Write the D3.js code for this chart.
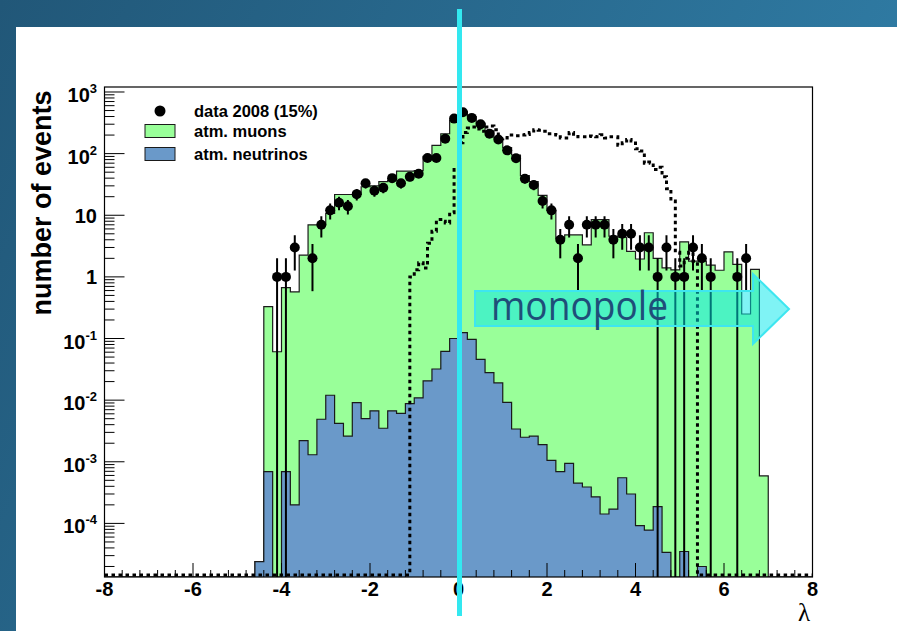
<!DOCTYPE html>
<html>
<head>
<meta charset="utf-8">
<script src="https://cdn.jsdelivr.net/npm/d3@7"></script>
<style>
  body { margin: 0; overflow: hidden; }
  svg { display: block; }
  text { font-family: "Liberation Sans", Arial, sans-serif; }
</style>
</head>
<body>
<svg id="chart" width="897" height="631"></svg>
<script>
// ---- data ----
// MC histograms: bins of 0.2 in lambda, first bin starts at -4.6
const mcStart = -4.6
const binWidth = 0.2
const muons = [2.4e-5, 0.33, 0.061, 0.67, 0.57, 2.25, 7.0, 7.0, 10.7, 21.7,
  21.7, 21.7, 29, 30, 35, 37, 52, 52, 53, 90,
  136, 210, 350, 480, 400, 310, 235, 180, 125, 95,
  44, 35, 21, 12, 4.2, 4.8, 4.8, 3.3, 8.5, 8.5,
  4.6, 4.4, 2.6, 1.95, 5.2, 2.0, 1.4, 1.3, 3.7, 1.8,
  1.8, 1.55, 1.28, 2.55, 1.6, 0.25, 1.32, 5.9e-4]
const neutrinos = [2.4e-5, 6.9e-4, 0, 6.9e-4, 2.0e-4, 2.2e-3, 1.3e-3, 4.9e-3, 1.2e-2, 4.2e-3,
  2.6e-3, 9.1e-3, 5.0e-3, 6.7e-3, 3.5e-3, 6.7e-3, 6.1e-3, 8.8e-3, 1.09e-2, 2.06e-2,
  3.2e-2, 6.2e-2, 0.100, 0.125, 0.097, 0.046, 0.028, 0.019, 9.2e-3, 3.4e-3,
  2.5e-3, 2.6e-3, 1.9e-3, 1.05e-3, 6.9e-4, 9.4e-4, 4.5e-4, 3.9e-4, 2.7e-4, 1.42e-4,
  1.71e-4, 5.5e-4, 3.0e-4, 9.2e-5, 7.8e-5, 1.87e-4, 3.4e-5, 0, 3.5e-5, 0, 2.0e-5]

// data 2008: counts per 0.2 bin, first bin starts at -4.2
const dataStart = -4.2
const dataCounts = [1, 1, 3, 0, 2, 7, 12, 16, 14, 22,
  33, 25, 28, 40, 33, 42, 47, 85, 85, 175,
  370, 470, 380, 300, 211, 169, 113, 84, 39, 31,
  17, 12, 4, 7, 2, 7, 7, 7, 4, 5,
  5, 3, 3, 1, 3, 1, 1, 3, 2, 1,
  0, 0, 1, 2]

// monopole signal (dotted): bins of 0.1 from -1.1
const signalStart = -1.1
const signalWidth = 0.1
const signal = [1.0, 1.3, 1.7, 1.4, 3.5, 5.5, 8.5, 8, 7.5, 11,
  55, 150, 220, 260, 270, 250, 230, 270, 280, 245,
  175, 180, 200, 200, 195, 200, 205, 220, 245, 240,
  230, 210, 205, 200, 180, 180, 220, 190, 187, 187,
  194, 190, 187, 203, 180, 187, 187, 137, 150, 170,
  160, 120, 110, 70, 73, 55, 60, 42, 27, 17,
  2.5, 1.5, 2, 2.5, 1.8]

const xTicks = [-8, -6, -4, -2, 0, 2, 4, 6, 8]
const yDecades = [-4, -3, -2, -1, 0, 1, 2, 3]
const legendItems = [
  { label: 'data 2008 (15%)', kind: 'marker' },
  { label: 'atm. muons', kind: 'box', fill: '#99ff99' },
  { label: 'atm. neutrinos', kind: 'box', fill: '#6a99c9' }
]

// ---- layout ----
const svg = d3.select('#chart')
const frame = { left: 104.5, right: 812.5, top: 87, bottom: 577 }
const x = d3.scaleLinear().domain([-8, 8]).range([frame.left, frame.right])
const y = d3.scaleLog().domain([1.35e-5, 1205]).range([frame.bottom, frame.top]).clamp(true)
const yv = v => v > 0 ? y(v) : frame.bottom
// empty bins of the dotted curve sit just above the axis line so they stay visible
const yvSig = v => v > 0 ? y(v) : frame.bottom - 2

// slide background
const defs = svg.append('defs')
const grad = defs.append('linearGradient').attr('id', 'bg')
  .attr('x1', 0).attr('y1', 0).attr('x2', 1).attr('y2', 0.35)
grad.append('stop').attr('offset', 0).attr('stop-color', '#215778')
grad.append('stop').attr('offset', 1).attr('stop-color', '#307da6')
svg.append('rect').attr('width', 897).attr('height', 631).attr('fill', 'url(#bg)')
svg.append('rect').attr('x', 16).attr('y', 27).attr('width', 881).attr('height', 604).attr('fill', '#fff')

defs.append('clipPath').attr('id', 'plotclip').append('rect')
  .attr('x', frame.left).attr('y', frame.top)
  .attr('width', frame.right - frame.left).attr('height', frame.bottom - frame.top)

// step outline points for a histogram, with zero level across the whole axis
function stepPoints(values, start, width) {
  const pts = [[-8, 0], [start, 0]]
  values.forEach((v, i) => pts.push([start + i * width, v]))
  pts.push([start + values.length * width, 0], [8, 0])
  return pts
}

const plot = svg.append('g').attr('clip-path', 'url(#plotclip)')
const area = d3.area().curve(d3.curveStepAfter).x(d => x(d[0])).y0(frame.bottom).y1(d => yv(d[1]))
const line = d3.line().curve(d3.curveStepAfter).x(d => x(d[0])).y(d => yv(d[1]))

const muPts = stepPoints(muons, mcStart, binWidth)
plot.append('path').attr('d', area(muPts)).attr('fill', '#99ff99')
plot.append('path').attr('d', line(muPts)).attr('fill', 'none').attr('stroke', '#1a1a1a').attr('stroke-width', 1.2)

const nuPts = stepPoints(neutrinos, mcStart, binWidth)
plot.append('path').attr('d', area(nuPts)).attr('fill', '#6a99c9')
plot.append('path').attr('d', line(nuPts)).attr('fill', 'none').attr('stroke', '#1a1a1a').attr('stroke-width', 1.2)

const sigPts = stepPoints(signal, signalStart, signalWidth)
plot.append('path').attr('d', line.y(d => yvSig(d[1]))(sigPts)).attr('fill', 'none')
  .attr('stroke', '#000').attr('stroke-width', 3).attr('stroke-dasharray', '3.5,3.5')

// data points with sqrt(N) error bars
const points = dataCounts.map((n, i) => ({ c: dataStart + (i + 0.5) * binWidth, n }))
  .filter(d => d.n > 0)
plot.append('g').selectAll('line').data(points).join('line')
  .attr('x1', d => x(d.c)).attr('x2', d => x(d.c))
  .attr('y1', d => yv(d.n + Math.sqrt(d.n)))
  .attr('y2', d => yv(d.n - Math.sqrt(d.n)))
  .attr('stroke', '#000').attr('stroke-width', 2)
plot.append('g').selectAll('circle').data(points).join('circle')
  .attr('cx', d => x(d.c)).attr('cy', d => y(d.n)).attr('r', 5).attr('fill', '#000')

// frame and ticks
svg.append('rect').attr('x', frame.left).attr('y', frame.top)
  .attr('width', frame.right - frame.left).attr('height', frame.bottom - frame.top)
  .attr('fill', 'none').attr('stroke', '#000').attr('stroke-width', 1.2)

const axisG = svg.append('g').attr('stroke', '#000').attr('stroke-width', 1)
d3.range(-8, 8.001, 0.4).forEach(t => {
  const major = Math.abs(t / 2 - Math.round(t / 2)) < 1e-6
  axisG.append('line').attr('x1', x(t)).attr('x2', x(t))
    .attr('y1', frame.bottom).attr('y2', frame.bottom - (major ? 14 : 7))
})
const [ymin, ymax] = y.domain()
yDecades.concat([-5]).forEach(e => {
  for (let m = 1; m < 10; m++) {
    const v = m * Math.pow(10, e)
    if (v < ymin || v > ymax) continue
    axisG.append('line').attr('x1', frame.left).attr('x2', frame.left + (m === 1 ? 20 : 10))
      .attr('y1', y(v)).attr('y2', y(v))
  }
})

svg.append('g').selectAll('text').data(xTicks).join('text')
  .attr('x', d => x(d)).attr('y', 596).attr('text-anchor', 'middle')
  .attr('font-size', 20).attr('font-weight', 'bold')
  .text(d => d)

const yLab = svg.append('g').attr('font-size', 20).attr('font-weight', 'bold').attr('text-anchor', 'end')
yDecades.forEach(e => {
  const ty = y(Math.pow(10, e))
  const t = yLab.append('text').attr('x', 97)
  if (e === 0 || e === 1) {
    t.attr('y', ty + 7.5).text(e === 0 ? '1' : '10')
  } else {
    t.attr('y', ty + 10).text('10')
    t.append('tspan').attr('dy', -9).attr('font-size', 13).text(e)
  }
})

svg.append('text').attr('transform', 'translate(51,203) rotate(-90)')
  .attr('text-anchor', 'middle').attr('font-size', 27).attr('font-weight', 'bold')
  .text('number of events')

svg.append('text').attr('x', 804).attr('y', 621).attr('text-anchor', 'middle')
  .attr('font-size', 25).style('font-family', '"Liberation Serif", serif').text('λ')

// legend
const leg = svg.append('g')
legendItems.forEach((d, i) => {
  const cy = [111, 131, 154][i]
  if (d.kind === 'marker') {
    leg.append('circle').attr('cx', 160).attr('cy', cy).attr('r', 5.5).attr('fill', '#000')
  } else {
    leg.append('rect').attr('x', 145).attr('y', cy - 6.5).attr('width', 30).attr('height', 13)
      .attr('fill', d.fill).attr('stroke', '#1a1a1a').attr('stroke-width', 1)
  }
  leg.append('text').attr('x', 194).attr('y', cy + 6).attr('font-size', 16.5)
    .attr('font-weight', 'bold').text(d.label)
})

// monopole arrow annotation
const arrow = [[475, 291], [753, 291], [753, 274], [789, 309], [753, 344], [753, 326], [475, 326]]
svg.append('polygon').attr('points', arrow.map(p => p.join(',')).join(' '))
  .attr('fill', 'rgba(0,232,236,0.5)').attr('stroke', '#3ee6f0').attr('stroke-width', 2)
svg.append('text').attr('x', 491).attr('y', 320).attr('font-size', 40)
  .attr('textLength', 177).attr('lengthAdjust', 'spacingAndGlyphs')
  .style('font-family', '"Open Sans", sans-serif').attr('fill', '#1f4e79').text('monopole')

// cyan marker line at lambda = 0
svg.append('rect').attr('x', 457).attr('y', 9).attr('width', 5).attr('height', 607).attr('fill', '#33e8f0')
</script>
</body>
</html>
